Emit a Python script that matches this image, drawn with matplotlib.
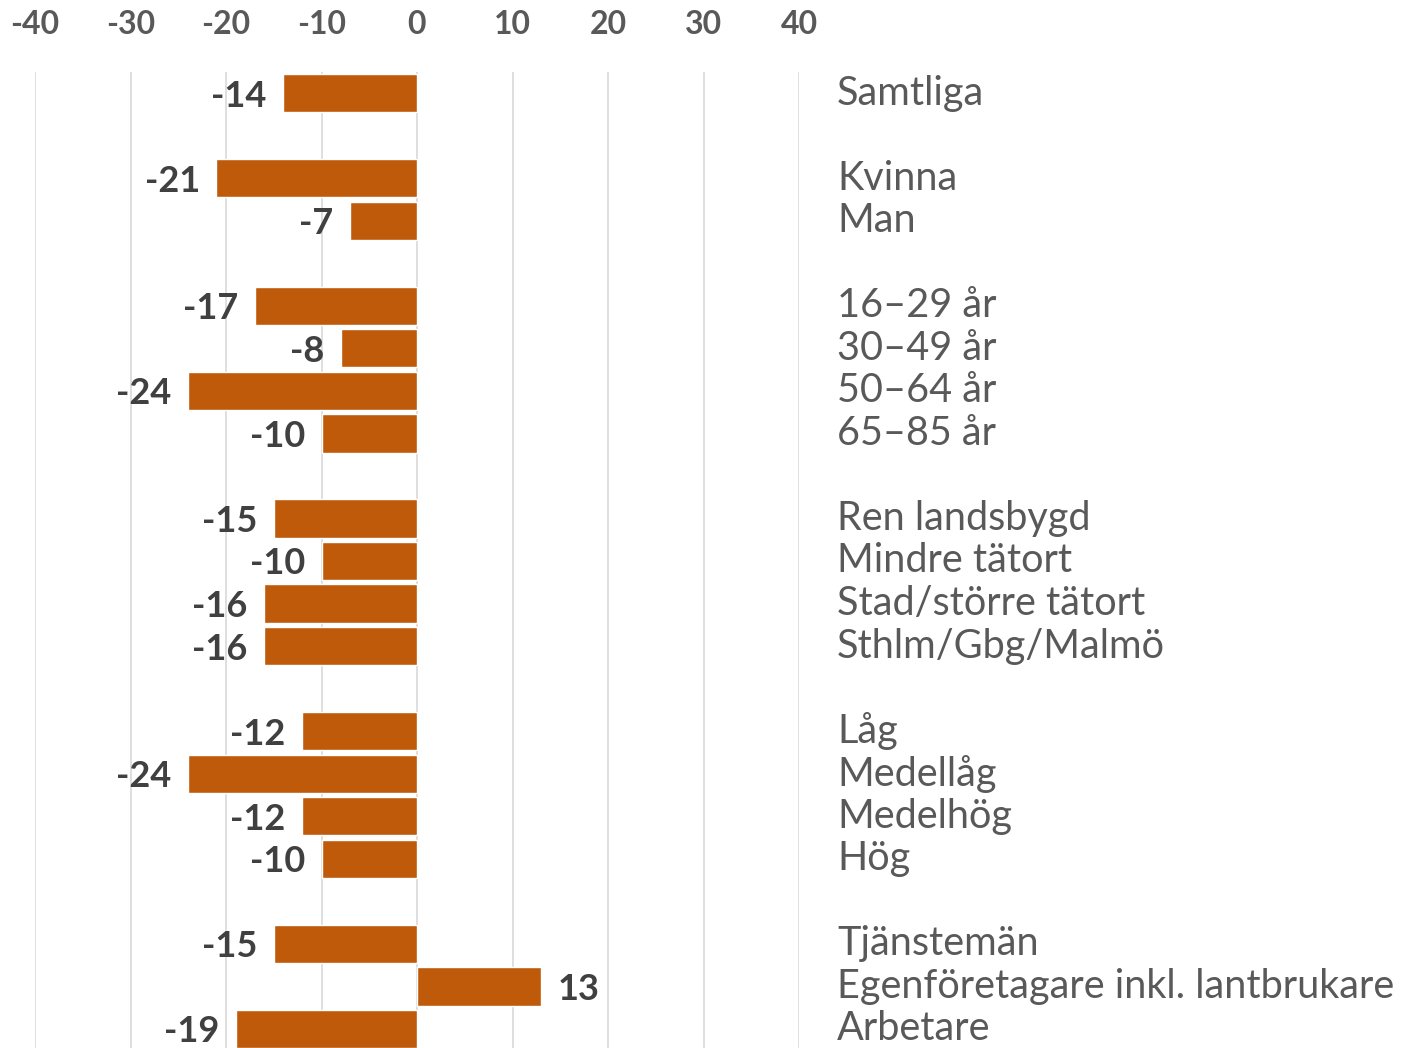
import matplotlib
matplotlib.use("Agg")
import matplotlib.pyplot as plt

plt.rcParams["font.family"] = ["Lato", "DejaVu Sans"]
plt.rcParams["axes.unicode_minus"] = False

# data
categories = [
    "Samtliga",
    "Kvinna", "Man",
    "16–29 år", "30–49 år", "50–64 år", "65–85 år",
    "Ren landsbygd", "Mindre tätort", "Stad/större tätort", "Sthlm/Gbg/Malmö",
    "Låg", "Medellåg", "Medelhög", "Hög",
    "Tjänstemän", "Egenföretagare inkl. lantbrukare", "Arbetare",
]
values = [
    -14,
    -21, -7,
    -17, -8, -24, -10,
    -15, -10, -16, -16,
    -12, -24, -12, -10,
    -15, 13, -19,
]
group_sizes = [1, 2, 4, 4, 4, 3]
x_ticks = [-40, -30, -20, -10, 0, 10, 20, 30, 40]

# one empty row between groups
positions = []
row = 0
for size in group_sizes:
    positions.extend(range(row, row + size))
    row += size + 1

BAR_COLOR = "#BE5A0A"
TEXT_GREY = "#595959"
VALUE_GREY = "#404040"

fig = plt.figure(figsize=(14.02, 10.48), dpi=100)
ax = fig.add_axes([35 / 1402, 0, 764 / 1402, (1048 - 72) / 1048])

bars = ax.barh(positions, values, height=0.9, color=BAR_COLOR,
               edgecolor="white", linewidth=1.0, zorder=3)
labels = ax.bar_label(bars, fmt="{:.0f}", padding=12, fontsize=26,
                      fontweight="bold", color=VALUE_GREY)
for t in labels:
    t.set_va("center_baseline")

for pos, cat in zip(positions, categories):
    ax.text(44.0, pos, cat, ha="left", va="center", fontsize=28.5,
            color=TEXT_GREY, clip_on=False)

ax.set_xlim(-40, 40)
ax.set_ylim(positions[-1] + 0.447, -0.494)
ax.set_xticks(x_ticks)
ax.set_yticks([])
ax.xaxis.tick_top()
ax.tick_params(axis="x", length=0, pad=24, labelsize=23, labelcolor=TEXT_GREY)
for lbl in ax.get_xticklabels():
    lbl.set_fontweight("bold")
ax.grid(axis="x", color="#D9D9D9", linewidth=1.2, zorder=0)
ax.set_axisbelow(True)
for s in ax.spines.values():
    s.set_visible(False)

fig.savefig("out.png", dpi=100)
